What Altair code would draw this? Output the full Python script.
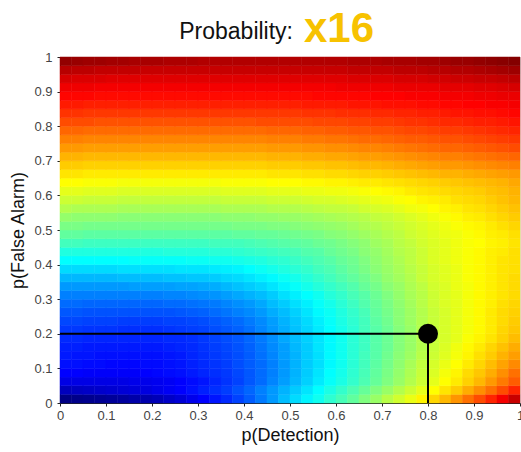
import altair as alt
import pandas as pd

# ---- grid of cell centres (step 0.025) ----
det_centers = [0.0125, 0.0375, 0.0625, 0.0875, 0.1125, 0.1375, 0.1625, 0.1875, 0.2125, 0.2375,
               0.2625, 0.2875, 0.3125, 0.3375, 0.3625, 0.3875, 0.4125, 0.4375, 0.4625, 0.4875,
               0.5125, 0.5375, 0.5625, 0.5875, 0.6125, 0.6375, 0.6625, 0.6875, 0.7125, 0.7375,
               0.7625, 0.7875, 0.8125, 0.8375, 0.8625, 0.8875, 0.9125, 0.9375, 0.9625, 0.9875]
fa_centers = list(det_centers)
cell_half = 0.0125

# ---- field values (position on the jet colour map), one list per p(False Alarm) row, bottom to top ----
fa_r00 = [0.005, 0.01, 0.015, 0.02, 0.025, 0.03, 0.04, 0.045, 0.055, 0.07,
          0.085, 0.105, 0.125, 0.145, 0.165, 0.19, 0.215, 0.245, 0.275, 0.31,
          0.34, 0.365, 0.39, 0.42, 0.445, 0.47, 0.50, 0.525, 0.555, 0.58,
          0.605, 0.635, 0.665, 0.695, 0.73, 0.765, 0.80, 0.84, 0.885, 0.93]
fa_r01 = [0.06, 0.065, 0.07, 0.075, 0.08, 0.085, 0.09, 0.095, 0.105, 0.115,
          0.125, 0.14, 0.155, 0.17, 0.185, 0.205, 0.225, 0.25, 0.275, 0.30,
          0.325, 0.35, 0.375, 0.40, 0.425, 0.45, 0.475, 0.50, 0.525, 0.55,
          0.575, 0.60, 0.625, 0.65, 0.675, 0.705, 0.735, 0.765, 0.80, 0.84]
fa_r02 = [0.10, 0.10, 0.10, 0.10, 0.10, 0.10, 0.105, 0.105, 0.11, 0.115,
          0.125, 0.135, 0.145, 0.16, 0.175, 0.19, 0.21, 0.23, 0.255, 0.28,
          0.305, 0.33, 0.355, 0.38, 0.40, 0.425, 0.45, 0.475, 0.50, 0.525,
          0.55, 0.575, 0.60, 0.625, 0.645, 0.67, 0.695, 0.725, 0.755, 0.785]
fa_r03 = [0.125, 0.125, 0.12, 0.12, 0.12, 0.12, 0.12, 0.125, 0.13, 0.135,
          0.14, 0.15, 0.16, 0.17, 0.18, 0.195, 0.21, 0.23, 0.25, 0.275,
          0.30, 0.325, 0.35, 0.375, 0.395, 0.42, 0.445, 0.47, 0.495, 0.52,
          0.545, 0.57, 0.59, 0.615, 0.635, 0.66, 0.68, 0.705, 0.735, 0.765]
fa_r04 = [0.14, 0.14, 0.135, 0.135, 0.13, 0.13, 0.13, 0.135, 0.135, 0.14,
          0.145, 0.155, 0.165, 0.175, 0.185, 0.20, 0.215, 0.23, 0.25, 0.275,
          0.30, 0.325, 0.345, 0.37, 0.39, 0.415, 0.44, 0.465, 0.49, 0.515,
          0.54, 0.565, 0.585, 0.605, 0.625, 0.645, 0.665, 0.69, 0.715, 0.74]
fa_r05 = [0.15, 0.145, 0.145, 0.14, 0.14, 0.14, 0.14, 0.14, 0.14, 0.145,
          0.15, 0.16, 0.17, 0.18, 0.19, 0.20, 0.215, 0.235, 0.255, 0.28,
          0.30, 0.325, 0.345, 0.37, 0.39, 0.415, 0.44, 0.46, 0.485, 0.51,
          0.53, 0.555, 0.575, 0.595, 0.615, 0.635, 0.655, 0.675, 0.70, 0.72]
fa_r06 = [0.155, 0.155, 0.15, 0.15, 0.15, 0.15, 0.15, 0.15, 0.15, 0.155,
          0.16, 0.165, 0.175, 0.185, 0.195, 0.205, 0.22, 0.24, 0.26, 0.28,
          0.305, 0.325, 0.35, 0.37, 0.39, 0.415, 0.435, 0.46, 0.48, 0.505,
          0.525, 0.55, 0.57, 0.59, 0.61, 0.63, 0.645, 0.665, 0.685, 0.705]
fa_r07 = [0.165, 0.165, 0.16, 0.16, 0.16, 0.16, 0.16, 0.16, 0.16, 0.165,
          0.165, 0.17, 0.18, 0.19, 0.20, 0.21, 0.225, 0.245, 0.265, 0.29,
          0.31, 0.33, 0.35, 0.37, 0.39, 0.415, 0.435, 0.46, 0.48, 0.505,
          0.525, 0.55, 0.57, 0.585, 0.60, 0.62, 0.635, 0.65, 0.67, 0.69]
fa_r08 = [0.18, 0.18, 0.175, 0.175, 0.175, 0.17, 0.17, 0.17, 0.17, 0.175,
          0.18, 0.185, 0.19, 0.20, 0.21, 0.22, 0.235, 0.255, 0.275, 0.295,
          0.315, 0.335, 0.355, 0.375, 0.395, 0.415, 0.44, 0.46, 0.48, 0.505,
          0.525, 0.55, 0.57, 0.585, 0.60, 0.615, 0.63, 0.645, 0.665, 0.68]
fa_r09 = [0.195, 0.195, 0.19, 0.19, 0.19, 0.185, 0.185, 0.185, 0.185, 0.19,
          0.19, 0.195, 0.20, 0.21, 0.22, 0.23, 0.245, 0.26, 0.28, 0.30,
          0.32, 0.34, 0.36, 0.38, 0.40, 0.42, 0.44, 0.465, 0.485, 0.51,
          0.53, 0.55, 0.57, 0.585, 0.60, 0.615, 0.63, 0.645, 0.66, 0.675]
fa_r10 = [0.21, 0.21, 0.205, 0.205, 0.205, 0.205, 0.205, 0.205, 0.205, 0.205,
          0.21, 0.215, 0.22, 0.23, 0.24, 0.25, 0.26, 0.275, 0.295, 0.31,
          0.33, 0.35, 0.37, 0.385, 0.405, 0.425, 0.445, 0.47, 0.49, 0.51,
          0.53, 0.55, 0.57, 0.585, 0.60, 0.615, 0.63, 0.645, 0.66, 0.67]
fa_r11 = [0.23, 0.23, 0.225, 0.225, 0.225, 0.225, 0.225, 0.225, 0.225, 0.23,
          0.23, 0.235, 0.24, 0.245, 0.255, 0.265, 0.275, 0.29, 0.31, 0.325,
          0.345, 0.36, 0.38, 0.395, 0.415, 0.435, 0.455, 0.475, 0.495, 0.515,
          0.535, 0.555, 0.575, 0.59, 0.60, 0.615, 0.63, 0.64, 0.655, 0.665]
fa_r12 = [0.25, 0.25, 0.25, 0.25, 0.25, 0.25, 0.25, 0.25, 0.25, 0.255,
          0.255, 0.26, 0.265, 0.27, 0.28, 0.29, 0.30, 0.31, 0.325, 0.345,
          0.36, 0.375, 0.39, 0.41, 0.425, 0.445, 0.46, 0.48, 0.50, 0.52,
          0.54, 0.555, 0.575, 0.59, 0.60, 0.615, 0.63, 0.64, 0.65, 0.66]
fa_r13 = [0.275, 0.275, 0.275, 0.275, 0.275, 0.275, 0.28, 0.28, 0.28, 0.28,
          0.285, 0.285, 0.29, 0.295, 0.305, 0.315, 0.325, 0.335, 0.35, 0.365,
          0.38, 0.395, 0.41, 0.425, 0.44, 0.455, 0.475, 0.49, 0.51, 0.525,
          0.545, 0.56, 0.58, 0.59, 0.605, 0.615, 0.63, 0.64, 0.65, 0.66]
fa_r14 = [0.305, 0.305, 0.305, 0.305, 0.305, 0.31, 0.31, 0.31, 0.31, 0.315,
          0.315, 0.32, 0.32, 0.325, 0.335, 0.34, 0.35, 0.36, 0.37, 0.385,
          0.395, 0.41, 0.425, 0.44, 0.455, 0.47, 0.485, 0.50, 0.52, 0.535,
          0.55, 0.57, 0.585, 0.595, 0.605, 0.62, 0.63, 0.64, 0.65, 0.66]
fa_r15 = [0.34, 0.34, 0.34, 0.34, 0.34, 0.345, 0.345, 0.345, 0.345, 0.345,
          0.35, 0.35, 0.35, 0.355, 0.36, 0.365, 0.375, 0.385, 0.395, 0.405,
          0.415, 0.425, 0.44, 0.45, 0.465, 0.48, 0.495, 0.51, 0.525, 0.54,
          0.555, 0.57, 0.585, 0.595, 0.605, 0.62, 0.63, 0.64, 0.65, 0.655]
fa_r16 = [0.375, 0.375, 0.375, 0.375, 0.375, 0.375, 0.38, 0.38, 0.38, 0.38,
          0.38, 0.385, 0.385, 0.39, 0.39, 0.395, 0.40, 0.405, 0.415, 0.42,
          0.43, 0.44, 0.45, 0.46, 0.475, 0.485, 0.50, 0.515, 0.53, 0.545,
          0.56, 0.575, 0.59, 0.60, 0.61, 0.62, 0.63, 0.64, 0.65, 0.655]
fa_r17 = [0.405, 0.405, 0.405, 0.405, 0.405, 0.405, 0.405, 0.405, 0.405, 0.41,
          0.41, 0.41, 0.41, 0.415, 0.415, 0.42, 0.425, 0.43, 0.435, 0.44,
          0.445, 0.455, 0.46, 0.475, 0.485, 0.495, 0.51, 0.52, 0.535, 0.55,
          0.56, 0.575, 0.59, 0.60, 0.61, 0.62, 0.63, 0.64, 0.645, 0.655]
fa_r18 = [0.44, 0.44, 0.435, 0.435, 0.435, 0.435, 0.435, 0.435, 0.435, 0.435,
          0.435, 0.435, 0.435, 0.44, 0.44, 0.44, 0.445, 0.45, 0.455, 0.46,
          0.465, 0.47, 0.48, 0.485, 0.495, 0.505, 0.515, 0.53, 0.54, 0.555,
          0.565, 0.58, 0.59, 0.60, 0.61, 0.62, 0.625, 0.635, 0.64, 0.65]
fa_r19 = [0.47, 0.47, 0.465, 0.465, 0.465, 0.465, 0.465, 0.465, 0.465, 0.465,
          0.465, 0.465, 0.465, 0.465, 0.465, 0.47, 0.47, 0.475, 0.475, 0.48,
          0.485, 0.49, 0.495, 0.505, 0.51, 0.52, 0.53, 0.54, 0.55, 0.56,
          0.575, 0.585, 0.595, 0.605, 0.61, 0.62, 0.63, 0.64, 0.645, 0.655]
fa_r20 = [0.495, 0.495, 0.49, 0.49, 0.49, 0.49, 0.49, 0.49, 0.49, 0.49,
          0.49, 0.49, 0.49, 0.49, 0.49, 0.495, 0.495, 0.495, 0.50, 0.50,
          0.505, 0.51, 0.515, 0.52, 0.525, 0.535, 0.545, 0.55, 0.56, 0.57,
          0.58, 0.59, 0.60, 0.61, 0.62, 0.63, 0.635, 0.645, 0.655, 0.665]
fa_r21 = [0.52, 0.515, 0.515, 0.515, 0.515, 0.51, 0.51, 0.51, 0.51, 0.51,
          0.51, 0.51, 0.51, 0.51, 0.515, 0.515, 0.515, 0.52, 0.52, 0.525,
          0.525, 0.53, 0.535, 0.54, 0.545, 0.55, 0.555, 0.565, 0.57, 0.58,
          0.59, 0.60, 0.61, 0.62, 0.63, 0.64, 0.645, 0.655, 0.665, 0.675]
fa_r22 = [0.55, 0.545, 0.545, 0.545, 0.545, 0.54, 0.54, 0.54, 0.54, 0.54,
          0.54, 0.54, 0.54, 0.54, 0.545, 0.545, 0.545, 0.545, 0.55, 0.55,
          0.55, 0.555, 0.56, 0.565, 0.565, 0.57, 0.58, 0.585, 0.59, 0.60,
          0.61, 0.615, 0.625, 0.635, 0.64, 0.65, 0.655, 0.665, 0.675, 0.685]
fa_r23 = [0.575, 0.575, 0.57, 0.57, 0.57, 0.565, 0.565, 0.565, 0.565, 0.565,
          0.565, 0.565, 0.565, 0.565, 0.57, 0.57, 0.57, 0.57, 0.575, 0.575,
          0.575, 0.58, 0.585, 0.585, 0.59, 0.595, 0.60, 0.605, 0.61, 0.62,
          0.625, 0.635, 0.64, 0.645, 0.655, 0.66, 0.665, 0.675, 0.685, 0.695]
fa_r24 = [0.60, 0.60, 0.595, 0.595, 0.595, 0.59, 0.59, 0.59, 0.59, 0.59,
          0.59, 0.59, 0.59, 0.59, 0.595, 0.595, 0.595, 0.595, 0.60, 0.60,
          0.60, 0.605, 0.605, 0.61, 0.61, 0.615, 0.62, 0.625, 0.63, 0.635,
          0.645, 0.65, 0.655, 0.66, 0.665, 0.67, 0.675, 0.685, 0.69, 0.70]
fa_r25 = [0.625, 0.625, 0.62, 0.62, 0.62, 0.615, 0.615, 0.615, 0.615, 0.615,
          0.615, 0.615, 0.615, 0.615, 0.62, 0.62, 0.62, 0.62, 0.625, 0.625,
          0.625, 0.63, 0.63, 0.635, 0.635, 0.64, 0.645, 0.645, 0.65, 0.655,
          0.66, 0.665, 0.67, 0.675, 0.68, 0.685, 0.69, 0.695, 0.70, 0.71]
fa_r26 = [0.65, 0.65, 0.645, 0.645, 0.645, 0.645, 0.645, 0.645, 0.645, 0.645,
          0.645, 0.645, 0.645, 0.645, 0.645, 0.645, 0.645, 0.645, 0.65, 0.65,
          0.65, 0.655, 0.655, 0.66, 0.66, 0.665, 0.67, 0.67, 0.675, 0.68,
          0.685, 0.69, 0.695, 0.70, 0.70, 0.705, 0.71, 0.715, 0.72, 0.725]
fa_r27 = [0.675, 0.675, 0.67, 0.67, 0.67, 0.67, 0.67, 0.67, 0.67, 0.67,
          0.67, 0.67, 0.67, 0.67, 0.67, 0.67, 0.67, 0.67, 0.675, 0.675,
          0.675, 0.68, 0.68, 0.685, 0.685, 0.69, 0.695, 0.695, 0.70, 0.705,
          0.71, 0.715, 0.72, 0.725, 0.725, 0.73, 0.735, 0.74, 0.745, 0.75]
fa_r28 = [0.70, 0.70, 0.695, 0.695, 0.695, 0.695, 0.695, 0.695, 0.695, 0.695,
          0.695, 0.695, 0.695, 0.695, 0.695, 0.695, 0.695, 0.695, 0.70, 0.70,
          0.70, 0.705, 0.705, 0.71, 0.71, 0.715, 0.72, 0.72, 0.725, 0.73,
          0.735, 0.74, 0.745, 0.75, 0.75, 0.755, 0.76, 0.765, 0.77, 0.775]
fa_r29 = [0.725, 0.725, 0.72, 0.72, 0.72, 0.72, 0.72, 0.72, 0.72, 0.72,
          0.72, 0.72, 0.72, 0.72, 0.72, 0.72, 0.72, 0.72, 0.725, 0.725,
          0.725, 0.73, 0.73, 0.735, 0.735, 0.74, 0.745, 0.745, 0.75, 0.755,
          0.76, 0.765, 0.77, 0.775, 0.775, 0.78, 0.785, 0.79, 0.795, 0.80]
fa_r30 = [0.75, 0.75, 0.745, 0.745, 0.745, 0.745, 0.745, 0.745, 0.745, 0.745,
          0.745, 0.745, 0.745, 0.745, 0.745, 0.745, 0.745, 0.745, 0.75, 0.75,
          0.75, 0.755, 0.755, 0.76, 0.76, 0.765, 0.77, 0.77, 0.775, 0.78,
          0.785, 0.785, 0.79, 0.795, 0.795, 0.80, 0.805, 0.81, 0.815, 0.82]
fa_r31 = [0.775, 0.775, 0.77, 0.77, 0.77, 0.77, 0.77, 0.77, 0.77, 0.77,
          0.77, 0.77, 0.77, 0.77, 0.77, 0.77, 0.77, 0.77, 0.775, 0.775,
          0.775, 0.78, 0.78, 0.785, 0.785, 0.79, 0.79, 0.795, 0.795, 0.80,
          0.805, 0.805, 0.81, 0.815, 0.815, 0.82, 0.825, 0.83, 0.835, 0.84]
fa_r32 = [0.80, 0.80, 0.80, 0.795, 0.795, 0.795, 0.795, 0.795, 0.795, 0.795,
          0.795, 0.795, 0.795, 0.795, 0.795, 0.795, 0.795, 0.80, 0.80, 0.80,
          0.80, 0.80, 0.805, 0.805, 0.805, 0.81, 0.81, 0.815, 0.815, 0.82,
          0.825, 0.825, 0.83, 0.835, 0.835, 0.84, 0.845, 0.845, 0.85, 0.855]
fa_r33 = [0.825, 0.825, 0.82, 0.82, 0.82, 0.82, 0.82, 0.82, 0.82, 0.82,
          0.82, 0.82, 0.82, 0.82, 0.82, 0.82, 0.82, 0.82, 0.82, 0.82,
          0.82, 0.825, 0.825, 0.825, 0.83, 0.83, 0.83, 0.835, 0.835, 0.84,
          0.84, 0.845, 0.845, 0.85, 0.855, 0.855, 0.86, 0.86, 0.865, 0.87]
fa_r34 = [0.85, 0.85, 0.845, 0.845, 0.845, 0.845, 0.845, 0.845, 0.845, 0.845,
          0.845, 0.845, 0.845, 0.845, 0.845, 0.845, 0.845, 0.845, 0.845, 0.845,
          0.845, 0.85, 0.85, 0.85, 0.85, 0.855, 0.855, 0.855, 0.86, 0.86,
          0.86, 0.865, 0.865, 0.87, 0.87, 0.875, 0.875, 0.88, 0.88, 0.885]
fa_r35 = [0.87, 0.87, 0.87, 0.865, 0.865, 0.865, 0.865, 0.865, 0.865, 0.865,
          0.865, 0.865, 0.865, 0.865, 0.865, 0.865, 0.865, 0.865, 0.865, 0.865,
          0.865, 0.865, 0.87, 0.87, 0.87, 0.87, 0.87, 0.875, 0.875, 0.875,
          0.88, 0.88, 0.88, 0.885, 0.885, 0.885, 0.89, 0.89, 0.895, 0.895]
fa_r36 = [0.89, 0.89, 0.89, 0.885, 0.885, 0.885, 0.885, 0.885, 0.885, 0.885,
          0.885, 0.885, 0.885, 0.885, 0.885, 0.885, 0.885, 0.885, 0.885, 0.885,
          0.885, 0.885, 0.885, 0.885, 0.89, 0.89, 0.89, 0.89, 0.89, 0.895,
          0.895, 0.895, 0.895, 0.90, 0.90, 0.90, 0.905, 0.905, 0.91, 0.915]
fa_r37 = [0.915, 0.91, 0.91, 0.91, 0.905, 0.905, 0.905, 0.905, 0.905, 0.905,
          0.905, 0.905, 0.905, 0.905, 0.905, 0.905, 0.905, 0.905, 0.905, 0.905,
          0.905, 0.905, 0.905, 0.905, 0.905, 0.91, 0.91, 0.91, 0.91, 0.915,
          0.915, 0.915, 0.92, 0.92, 0.925, 0.925, 0.93, 0.93, 0.935, 0.94]
fa_r38 = [0.945, 0.94, 0.94, 0.935, 0.935, 0.935, 0.935, 0.93, 0.93, 0.93,
          0.93, 0.93, 0.93, 0.93, 0.93, 0.93, 0.93, 0.93, 0.93, 0.93,
          0.93, 0.93, 0.93, 0.93, 0.93, 0.935, 0.935, 0.935, 0.935, 0.94,
          0.94, 0.94, 0.945, 0.945, 0.95, 0.95, 0.955, 0.96, 0.965, 0.97]
fa_r39 = [0.98, 0.975, 0.97, 0.97, 0.965, 0.965, 0.96, 0.96, 0.96, 0.955,
          0.955, 0.955, 0.95, 0.95, 0.95, 0.95, 0.95, 0.95, 0.95, 0.95,
          0.95, 0.95, 0.95, 0.95, 0.95, 0.955, 0.955, 0.955, 0.96, 0.96,
          0.96, 0.965, 0.965, 0.97, 0.975, 0.975, 0.98, 0.985, 0.99, 0.995]

field_rows = [fa_r00, fa_r01, fa_r02, fa_r03, fa_r04, fa_r05, fa_r06, fa_r07, fa_r08, fa_r09,
              fa_r10, fa_r11, fa_r12, fa_r13, fa_r14, fa_r15, fa_r16, fa_r17, fa_r18, fa_r19,
              fa_r20, fa_r21, fa_r22, fa_r23, fa_r24, fa_r25, fa_r26, fa_r27, fa_r28, fa_r29,
              fa_r30, fa_r31, fa_r32, fa_r33, fa_r34, fa_r35, fa_r36, fa_r37, fa_r38, fa_r39]
for k, row in enumerate(field_rows):
    assert len(row) == len(det_centers), f"row {k} has {len(row)} values"

# operating point
point_det = [0.8]
point_fa = [0.2]

axis_ticks = [0, 0.1, 0.2, 0.3, 0.4, 0.5, 0.6, 0.7, 0.8, 0.9, 1]
title_main = "Probability:"
title_factor = "x16"

jet_domain = [0, 0.125, 0.375, 0.625, 0.875, 1]
jet_range = ["#00007F", "#0000FF", "#00FFFF", "#FFFF00", "#FF0000", "#7F0000"]

FONT = "Liberation Sans"

records = []
for yc, row in zip(fa_centers, field_rows):
    for xc, v in zip(det_centers, row):
        records.append({"x0": xc - cell_half, "x1": xc + cell_half,
                        "y0": yc - cell_half, "y1": yc + cell_half, "v": v})
grid = pd.DataFrame(records)

xscale = alt.Scale(domain=[0, 1], nice=False, zero=False)
yscale = alt.Scale(domain=[0, 1], nice=False, zero=False)
cscale = alt.Scale(type="linear", domain=jet_domain, range=jet_range, interpolate="rgb", clamp=True)

xaxis = alt.Axis(values=axis_ticks, format="~g", title="p(Detection)", grid=False,
                 labelFont=FONT, labelFontSize=13, labelColor="#444444", labelPadding=3,
                 labelOverlap=False,
                 titleFont=FONT, titleFontSize=18, titleFontWeight="normal", titleColor="#111111",
                 titlePadding=4, domainColor="#222222", tickColor="#222222", tickSize=3,
                 labelFlush=False)
yaxis = alt.Axis(values=axis_ticks, format="~g", title="p(False Alarm)", grid=False,
                 labelFont=FONT, labelFontSize=13, labelColor="#444444", labelPadding=5,
                 labelOverlap=False,
                 titleFont=FONT, titleFontSize=18, titleFontWeight="normal", titleColor="#111111",
                 titlePadding=6, domainColor="#222222", tickColor="#222222", tickSize=3,
                 labelFlush=False)

heat = alt.Chart(grid).mark_rect(strokeWidth=0.5).encode(
    x=alt.X("x0:Q", scale=xscale, axis=xaxis),
    x2="x1:Q",
    y=alt.Y("y0:Q", scale=yscale, axis=yaxis),
    y2="y1:Q",
    color=alt.Color("v:Q", scale=cscale, legend=None),
    stroke=alt.Stroke("v:Q", scale=cscale, legend=None),
)

pt = pd.DataFrame({"det": point_det, "fa": point_fa, "zero": [0.0]})

hline = alt.Chart(pt).mark_rule(color="black", strokeWidth=2).encode(
    x=alt.X("zero:Q", scale=xscale, axis=xaxis), x2="det:Q",
    y=alt.Y("fa:Q", scale=yscale, axis=yaxis))
vline = alt.Chart(pt).mark_rule(color="black", strokeWidth=2).encode(
    y=alt.Y("zero:Q", scale=yscale, axis=yaxis), y2="fa:Q",
    x=alt.X("det:Q", scale=xscale, axis=xaxis))
dot = alt.Chart(pt).mark_point(filled=True, shape="circle", size=400, color="black", opacity=1).encode(
    x=alt.X("det:Q", scale=xscale, axis=xaxis), y=alt.Y("fa:Q", scale=yscale, axis=yaxis))

tdf = pd.DataFrame({"a": [title_main], "b": [title_factor]})
t_main = alt.Chart(tdf).mark_text(font=FONT, fontSize=23, color="#111111", align="right",
                                  baseline="alphabetic").encode(
    x=alt.value(233), y=alt.value(-18), text="a:N")
t_factor = alt.Chart(tdf).mark_text(font=FONT, fontSize=42, fontWeight="bold", color="#F7C200",
                                    align="left", baseline="alphabetic").encode(
    x=alt.value(244), y=alt.value(-15), text="b:N")

chart = alt.layer(heat, hline, vline, dot, t_main, t_factor).properties(
    width=460, height=346,
    autosize=alt.AutoSizeParams(type="none"),
    padding={"left": 60, "top": 57, "right": 1, "bottom": 49},
).configure_view(stroke="#bbbbbb", strokeWidth=1).configure(background="white")

chart.save("out.html", embed_options={"renderer": "svg", "actions": False})
